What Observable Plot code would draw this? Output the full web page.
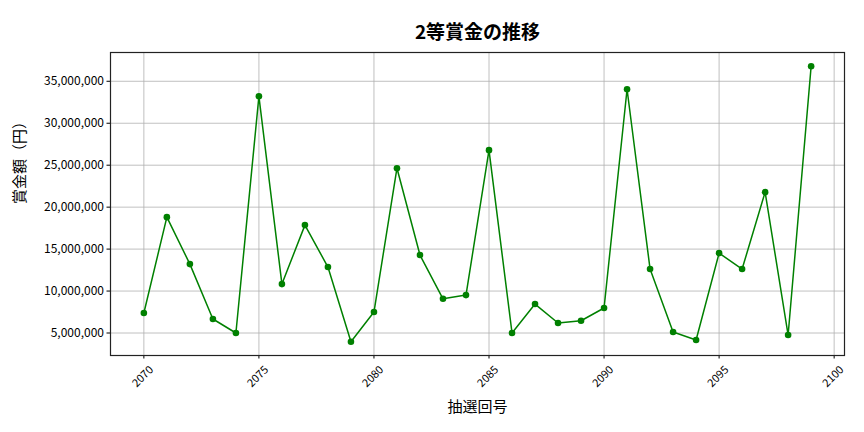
<!DOCTYPE html>
<html><head><meta charset="utf-8">
<script src="https://cdn.jsdelivr.net/npm/d3@7"></script>
<script src="https://cdn.jsdelivr.net/npm/@observablehq/plot@0.6"></script>
<style>body{margin:0;background:#fff}</style>
</head><body><div id="chart"></div>
<script>
const title = "2等賞金の推移";
const xLabel = "抽選回号";
const yLabel = "賞金額（円）";
const rounds = [2070,2071,2072,2073,2074,2075,2076,2077,2078,2079,2080,2081,2082,2083,2084,2085,2086,2087,2088,2089,2090,2091,2092,2093,2094,2095,2096,2097,2098,2099];
const prizes = [7380000,18810000,13210000,6670000,5000000,33210000,10830000,17860000,12860000,3960000,7500000,24640000,14290000,9080000,9520000,26790000,5000000,8450000,6190000,6460000,7980000,34050000,12620000,5120000,4170000,14520000,12620000,21790000,4760000,36790000];
const xTicks = [2070,2075,2080,2085,2090,2095,2100];
const yTicks = [5000000,10000000,15000000,20000000,25000000,30000000,35000000];

const data = rounds.map((r,i)=>({round:r, prize:prizes[i]}));
const font = "'Noto Sans CJK JP', 'Noto Sans', sans-serif";

const chart = Plot.plot({
  width: 864, height: 432,
  marginLeft: 110, marginRight: 20, marginTop: 52, marginBottom: 77,
  style: {fontFamily: font, fontSize: "11px", color: "#000", background: "#fff"},
  x: {domain: [2068.55, 2100.45], label: null},
  y: {domain: [2320000, 38430000], label: null},
  marks: [
    Plot.gridX(xTicks, {stroke: "#b0b0b0", strokeOpacity: 1, strokeWidth: 0.8}),
    Plot.gridY(yTicks, {stroke: "#b0b0b0", strokeOpacity: 1, strokeWidth: 0.8}),
    Plot.axisX(xTicks, {tickFormat: () => "", tickSize: 3.5}),
    Plot.text(xTicks, {x: d => d, text: d => String(d), frameAnchor: "bottom", dy: 21, dx: -1, rotate: -45, textAnchor: "middle", lineAnchor: "middle", fontSize: 11, fill: "#000"}),
    Plot.axisY(yTicks, {tickFormat: d3.format(","), tickSize: 3.5, tickPadding: 3, fontSize: 12}),
    Plot.frame({stroke: "#222", strokeWidth: 1.2}),
    Plot.line(data, {x: "round", y: "prize", stroke: "green", strokeWidth: 1.5}),
    Plot.dot(data, {x: "round", y: "prize", fill: "green", r: 3.3}),
    Plot.text([title], {frameAnchor: "top", dy: -27, fontSize: 19, fontWeight: "bold", fill: "#000"}),
    Plot.text([xLabel], {frameAnchor: "bottom", dy: 56, fontSize: 15, fill: "#000"}),
    Plot.text([yLabel], {frameAnchor: "left", dx: -90, rotate: -90, fontSize: 15, fill: "#000"})
  ]
});
document.getElementById("chart").appendChild(chart);
</script>
</body></html>
